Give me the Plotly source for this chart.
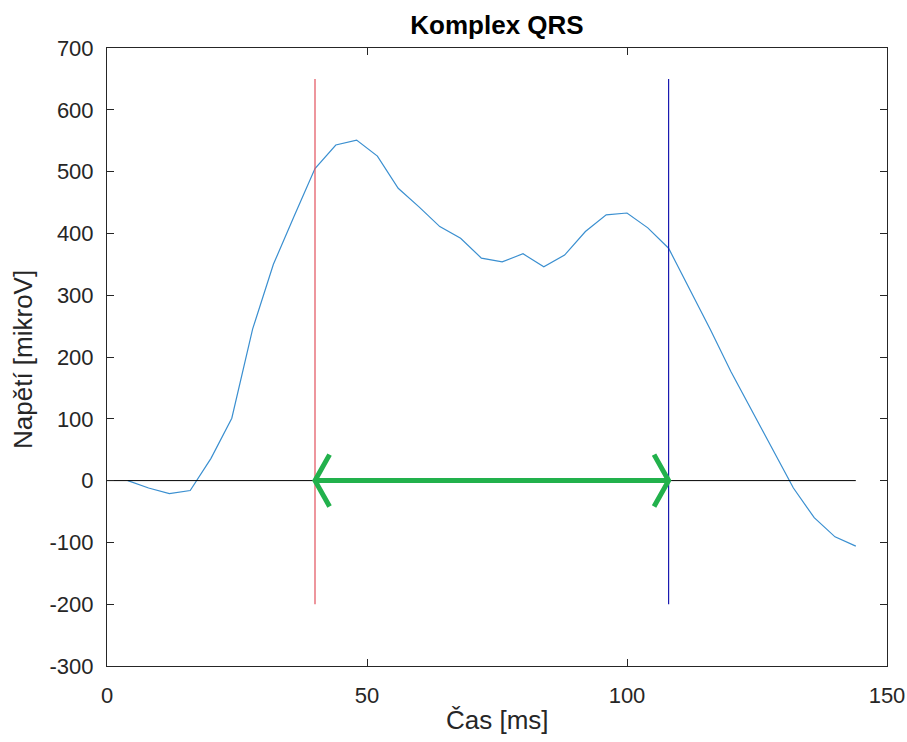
import plotly.graph_objects as go

# Data
time_ms = [4, 8, 12, 16, 20, 24, 28, 32, 36, 40, 44, 48, 52, 56, 60, 64, 68, 72,
           76, 80, 84, 88, 92, 96, 100, 104, 108, 112, 116, 120, 124, 128, 132,
           136, 140, 144]
voltage = [0, -12, -21, -16, 36, 101, 245, 350, 428, 505, 543, 551, 525, 473,
           443, 411, 392, 360, 354, 367, 346, 365, 403, 430, 433, 409, 376, 311,
           245, 176, 114, 50, -12, -60, -91, -106]

qrs_start = 40
qrs_end = 108
marker_y = [-200, 650]
baseline_x = [0, 144]
arrow_barb_dx = 2.8
arrow_barb_dy = 42

tick_x = [0, 50, 100, 150]
tick_x_labels = ["0", "50", "100", "150"]
tick_y = [-300, -200, -100, 0, 100, 200, 300, 400, 500, 600, 700]
tick_y_labels = ["-300", "-200", "-100", "0", "100", "200", "300", "400",
                 "500", "600", "700"]

W, H = 907, 742
L, R, T, B = 107, 20, 48, 76
FONT = "Liberation Sans"
TXT = "#262626"

fig = go.Figure()

fig.add_trace(go.Scatter(x=time_ms, y=voltage, mode="lines",
                         line=dict(color="#3a8fd0", width=1.2), showlegend=False))
fig.add_trace(go.Scatter(x=baseline_x, y=[0, 0], mode="lines",
                         line=dict(color="#000000", width=1), showlegend=False))
fig.add_trace(go.Scatter(x=[qrs_start, qrs_start], y=marker_y, mode="lines",
                         line=dict(color="#e2505c", width=1.2), showlegend=False))
fig.add_trace(go.Scatter(x=[qrs_end, qrs_end], y=marker_y, mode="lines",
                         line=dict(color="#1a1ab0", width=1.2), showlegend=False))

# green double arrow
ax = [qrs_start + arrow_barb_dx, qrs_start, qrs_start + arrow_barb_dx, None,
      qrs_start, qrs_end, None,
      qrs_end - arrow_barb_dx, qrs_end, qrs_end - arrow_barb_dx]
ay = [arrow_barb_dy, 0, -arrow_barb_dy, None,
      0, 0, None,
      arrow_barb_dy, 0, -arrow_barb_dy]
fig.add_trace(go.Scatter(x=ax, y=ay, mode="lines",
                         line=dict(color="#22b14c", width=5),
                         showlegend=False))

axis_common = dict(
    showgrid=False, zeroline=False, showline=True, linecolor=TXT,
    linewidth=1, mirror="ticks", ticks="inside", ticklen=7,
    tickcolor=TXT, tickfont=dict(family=FONT, size=22, color=TXT),
    automargin=False,
)

fig.update_xaxes(range=[0, 150], tickvals=tick_x, ticktext=tick_x_labels,
                 ticklabelstandoff=10, **axis_common)
fig.update_yaxes(range=[-300, 700], tickvals=tick_y, ticktext=tick_y_labels,
                 ticklabelstandoff=8, **axis_common)

pw = W - L - R
ph = H - T - B
fig.add_annotation(text="Čas [ms]", xref="paper", yref="paper",
                   x=0.5, y=-(720 - (H - B)) / ph, xanchor="center",
                   yanchor="middle", showarrow=False,
                   font=dict(family=FONT, size=26, color=TXT))
fig.add_annotation(text="Napětí [mikroV]", xref="paper", yref="paper",
                   x=-(L - 23) / pw, y=(H - B - 360) / ph, xanchor="center",
                   yanchor="middle", showarrow=False, textangle=-90,
                   font=dict(family=FONT, size=26, color=TXT))

fig.update_layout(
    width=W, height=H,
    margin=dict(l=L, r=R, t=T, b=B),
    plot_bgcolor="white", paper_bgcolor="white",
    title=dict(text="<b>Komplex QRS</b>", x=(L + pw / 2) / W, xanchor="center",
               y=1 - 25 / H, yanchor="middle",
               font=dict(family=FONT, size=26, color="#000000")),
)

fig.write_html("out.html")
